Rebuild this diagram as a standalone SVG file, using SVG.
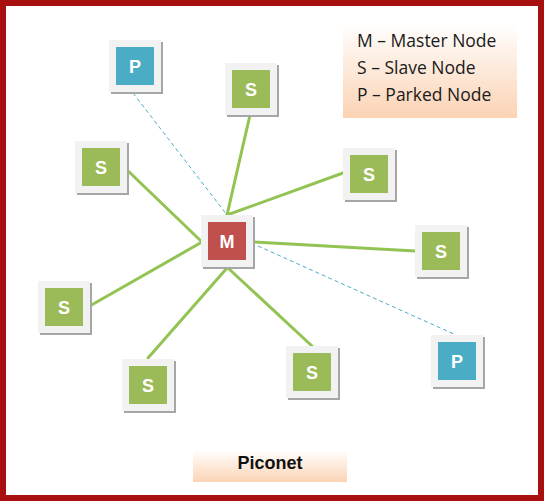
<svg xmlns="http://www.w3.org/2000/svg" width="544" height="501" viewBox="0 0 544 501">
<defs>
<linearGradient id="peach" x1="0" y1="0" x2="0" y2="1">
<stop offset="0" stop-color="#ffffff"/>
<stop offset="1" stop-color="#fbd3b4"/>
</linearGradient>
<style>
.sh{fill:#a6a6a6}
.ob{fill:#f2f2f2}
.s{fill:#9bbb59}
.m{fill:#c0504d}
.p{fill:#4bacc6}
.lb{font-family:"Liberation Sans",Arial,sans-serif;font-weight:bold;font-size:18px;fill:#ffffff;text-anchor:middle}
.g{stroke:#92c353;stroke-width:3;fill:none;stroke-linecap:round}
.d{stroke:#4bacc6;stroke-width:1;stroke-dasharray:4 3;fill:none}
.lg{font-family:"Open Sans","Liberation Sans",sans-serif;font-size:17.5px;fill:#1a1a1a}
</style>
</defs>
<rect x="0" y="0" width="544" height="501" fill="#ffffff"/>
<rect x="3" y="3" width="538" height="495" fill="none" stroke="#a80f0f" stroke-width="6"/>
<g id="legend">
<rect x="343" y="22" width="174" height="96" fill="url(#peach)"/>
<text class="lg" x="357" y="47">M – Master Node</text>
<text class="lg" x="357" y="74">S – Slave Node</text>
<text class="lg" x="357" y="101">P – Parked Node</text>
</g>
<g id="title">
<rect x="193" y="450" width="154" height="32" fill="url(#peach)"/>
<text x="270" y="469" font-family="Liberation Sans,Arial,sans-serif" font-weight="bold" font-size="18" fill="#111111" text-anchor="middle">Piconet</text>
</g>
<g id="connectors">
<line class="g" x1="250" y1="115" x2="227" y2="215"/>
<line class="g" x1="343" y1="173" x2="227" y2="215"/>
<line class="g" x1="125" y1="168" x2="202" y2="242"/>
<line class="g" x1="88" y1="307" x2="202" y2="242"/>
<line class="g" x1="253" y1="242" x2="415" y2="251"/>
<line class="g" x1="228" y1="268" x2="312" y2="346"/>
<line class="g" x1="148" y1="358" x2="227" y2="268"/>
<line class="d" x1="133" y1="93" x2="227" y2="215"/>
<line class="d" x1="258" y1="246" x2="456" y2="335"/>
</g>
<g id="P1"><rect class="sh" x="111" y="42" width="52" height="52"/><rect class="ob" x="109" y="40" width="52" height="52"/><rect class="p" x="116" y="47" width="38" height="38"/><text class="lb" x="135" y="73">P</text></g>
<g id="S1"><rect class="sh" x="227" y="65" width="52" height="52"/><rect class="ob" x="225" y="63" width="52" height="52"/><rect class="s" x="232" y="70" width="38" height="38"/><text class="lb" x="251" y="96">S</text></g>
<g id="S2"><rect class="sh" x="77" y="143" width="52" height="52"/><rect class="ob" x="75" y="141" width="52" height="52"/><rect class="s" x="82" y="148" width="38" height="38"/><text class="lb" x="101" y="174">S</text></g>
<g id="S3"><rect class="sh" x="345" y="150" width="52" height="52"/><rect class="ob" x="343" y="148" width="52" height="52"/><rect class="s" x="350" y="155" width="38" height="38"/><text class="lb" x="369" y="181">S</text></g>
<g id="M"><rect class="sh" x="203" y="217" width="52" height="52"/><rect class="ob" x="201" y="215" width="52" height="52"/><rect class="m" x="208" y="222" width="38" height="38"/><text class="lb" x="227" y="248">M</text></g>
<g id="S4"><rect class="sh" x="417" y="227" width="52" height="52"/><rect class="ob" x="415" y="225" width="52" height="52"/><rect class="s" x="422" y="232" width="38" height="38"/><text class="lb" x="441" y="258">S</text></g>
<g id="S5"><rect class="sh" x="40" y="283" width="52" height="52"/><rect class="ob" x="38" y="281" width="52" height="52"/><rect class="s" x="45" y="288" width="38" height="38"/><text class="lb" x="64" y="314">S</text></g>
<g id="P2"><rect class="sh" x="433" y="337" width="52" height="52"/><rect class="ob" x="431" y="335" width="52" height="52"/><rect class="p" x="438" y="342" width="38" height="38"/><text class="lb" x="457" y="368">P</text></g>
<g id="S6"><rect class="sh" x="288" y="348" width="52" height="52"/><rect class="ob" x="286" y="346" width="52" height="52"/><rect class="s" x="293" y="353" width="38" height="38"/><text class="lb" x="312" y="379">S</text></g>
<g id="S7"><rect class="sh" x="124" y="361" width="52" height="52"/><rect class="ob" x="122" y="359" width="52" height="52"/><rect class="s" x="129" y="366" width="38" height="38"/><text class="lb" x="148" y="392">S</text></g>
</svg>
